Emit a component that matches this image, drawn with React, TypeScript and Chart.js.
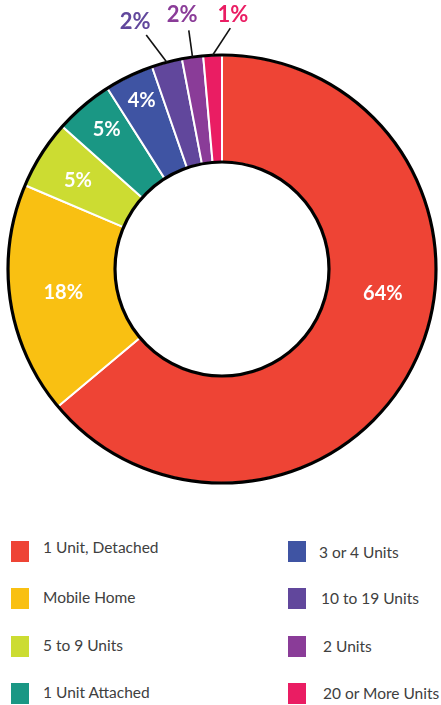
import React, { useEffect, useRef } from "react";
import { Chart, registerables } from "chart.js";

Chart.register(...registerables);

const categories = [
  "1 Unit, Detached",
  "Mobile Home",
  "5 to 9 Units",
  "1 Unit Attached",
  "3 or 4 Units",
  "10 to 19 Units",
  "2 Units",
  "20 or More Units",
];
const shares = [63.9, 17.5, 5.2, 4.4, 3.7, 2.3, 1.6, 1.4];
const shareLabels = ["64%", "18%", "5%", "5%", "4%", "2%", "2%", "1%"];
const colors = [
  "#EE4435",
  "#F9C012",
  "#CCDC32",
  "#1A9784",
  "#3F54A3",
  "#61479C",
  "#8A3C98",
  "#EA1D63",
];

// label placement (style): inside labels use radial fraction + angle shift (deg);
// outside labels use leader line end radius offset/angle shift and text offset.
const labelPlacement = [
  { inside: true, frac: 0.52, shift: -16.5 },
  { inside: true, frac: 0.5, shift: 0 },
  { inside: true, frac: 0.58, shift: -0.8 },
  { inside: true, frac: 0.69, shift: 0.7 },
  { inside: true, frac: 0.74, shift: 0.2 },
  { inside: false, lineOut: 32, lineShift: -3, textOut: 48, textShift: -4.4 },
  { inside: false, lineOut: 27, lineShift: 0, textOut: 43, textShift: -1 },
  { inside: false, lineOut: 27, lineShift: 4.5, textOut: 40, textShift: 5 },
];

const DEG = Math.PI / 180;

const ringPlugin = {
  id: "ringLabels",
  afterDatasetsDraw(chart: any) {
    const ctx = chart.ctx as CanvasRenderingContext2D;
    const meta = chart.getDatasetMeta(0);
    if (!meta.data.length) return;
    const p0 = meta.data[0].getProps(["x", "y", "outerRadius", "innerRadius"], true);
    const cx = p0.x, cy = p0.y, R = p0.outerRadius, r = p0.innerRadius;
    ctx.save();
    ctx.strokeStyle = "#000";
    ctx.lineWidth = 3.2;
    ctx.beginPath();
    ctx.arc(cx, cy, R, 0, Math.PI * 2);
    ctx.stroke();
    ctx.beginPath();
    ctx.arc(cx, cy, r, 0, Math.PI * 2);
    ctx.stroke();

    ctx.textAlign = "center";
    ctx.textBaseline = "middle";
    meta.data.forEach((el: any, i: number) => {
      const p = el.getProps(["startAngle", "endAngle"], true);
      const mid = (p.startAngle + p.endAngle) / 2;
      const pl: any = labelPlacement[i];
      if (pl.inside) {
        const a = mid + pl.shift * DEG;
        const rad = r + pl.frac * (R - r);
        ctx.fillStyle = "#ffffff";
        ctx.font = "bold 20px Lato";
        ctx.fillText(shareLabels[i], cx + rad * Math.cos(a), cy + rad * Math.sin(a));
      } else {
        const a2 = mid + pl.lineShift * DEG;
        ctx.strokeStyle = "#111";
        ctx.lineWidth = 1.6;
        ctx.beginPath();
        ctx.moveTo(cx + R * Math.cos(mid), cy + R * Math.sin(mid));
        ctx.lineTo(cx + (R + pl.lineOut) * Math.cos(a2), cy + (R + pl.lineOut) * Math.sin(a2));
        ctx.stroke();
        const a3 = mid + pl.textShift * DEG;
        ctx.fillStyle = colors[i];
        ctx.font = "bold 22px Lato";
        ctx.fillText(
          shareLabels[i],
          cx + (R + pl.textOut) * Math.cos(a3),
          cy + (R + pl.textOut) * Math.sin(a3)
        );
      }
    });
    ctx.restore();
  },
};

export default function App() {
  const ref = useRef<HTMLCanvasElement>(null);
  useEffect(() => {
    if (!ref.current) return;
    const chart = new Chart(ref.current, {
      type: "doughnut",
      data: {
        labels: categories,
        datasets: [
          {
            data: shares,
            backgroundColor: colors,
            borderColor: "#ffffff",
            borderWidth: 2,
            hoverOffset: 0,
          },
        ],
      },
      options: {
        responsive: false,
        animation: false,
        cutout: "50%",
        layout: { padding: { left: 7, right: 4, top: 54, bottom: 16 } },
        plugins: {
          legend: { display: false },
          tooltip: { enabled: false },
        },
      },
      plugins: [ringPlugin],
    });
    return () => chart.destroy();
  }, []);

  const rightTextLeft = [319, 321, 323, 323];

  return (
    <div
      style={{
        position: "fixed",
        left: 0,
        top: 0,
        width: 441,
        height: 705,
        background: "#fff",
        overflow: "hidden",
      }}
    >
      <canvas ref={ref} width={441} height={500} style={{ display: "block", width: 441, height: 500 }} />
      {categories.map((c, i) => {
        const col = Math.floor(i / 4);
        const row = i % 4;
        const top = 541 + row * 47.4;
        const sqLeft = col === 0 ? 11 : 288;
        const txtLeft = col === 0 ? 43 : rightTextLeft[row];
        const txtTop = col === 0 ? (row === 0 ? top - 5 : top - 2) : (row === 0 ? top : top - 1);
        return (
          <React.Fragment key={c}>
            <div
              style={{
                position: "absolute",
                left: sqLeft,
                top,
                width: 18,
                height: 21,
                background: colors[i],
              }}
            />
            <div
              style={{
                position: "absolute",
                left: txtLeft,
                top: txtTop,
                height: 22,
                lineHeight: "22px",
                fontFamily: "Lato, sans-serif",
                fontSize: 15.5,
                color: "#404040",
                whiteSpace: "nowrap",
              }}
            >
              {c}
            </div>
          </React.Fragment>
        );
      })}
    </div>
  );
}
